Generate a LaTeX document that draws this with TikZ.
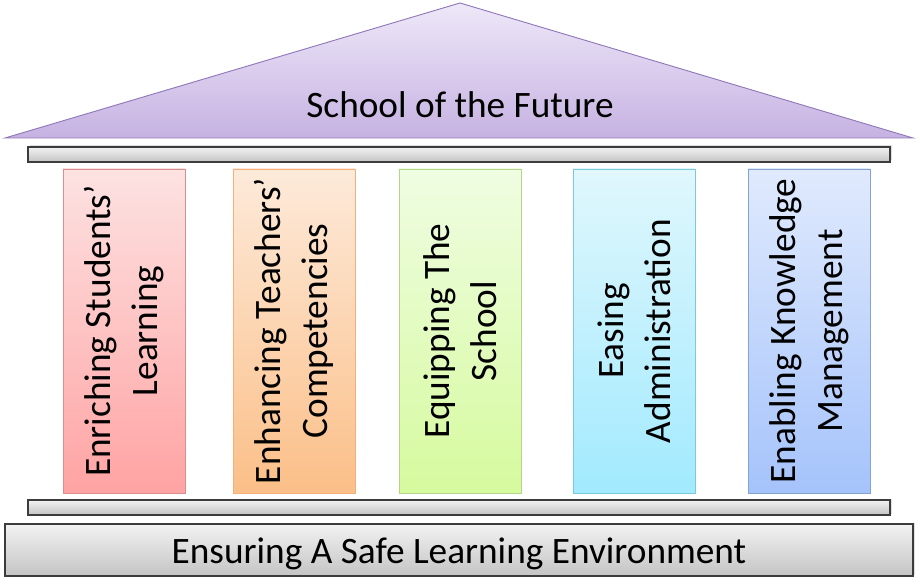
\documentclass[tikz,border=0pt]{standalone}
\usepackage{fontspec}
\setmainfont{Carlito}
\usepackage{tikz}
\usetikzlibrary{positioning,shadows}
\usepackage{xcolor}
\definecolor{roofline}{HTML}{8E76B8}
\definecolor{rooftop}{HTML}{EEE8F8}
\definecolor{roofbot}{HTML}{C6B2E2}
\definecolor{beamline}{HTML}{3C3C3C}
\definecolor{beamtop}{HTML}{F2F2F2}
\definecolor{beambot}{HTML}{C4C4C4}
\definecolor{redtop}{HTML}{FDE2E2}
\definecolor{redbot}{HTML}{FFA3A3}
\definecolor{redline}{HTML}{D88E8C}
\definecolor{orangetop}{HTML}{FDEADA}
\definecolor{orangebot}{HTML}{FBBF88}
\definecolor{orangeline}{HTML}{F3B07A}
\definecolor{greentop}{HTML}{EFFDE2}
\definecolor{greenbot}{HTML}{D6FA9E}
\definecolor{greenline}{HTML}{B5D68A}
\definecolor{cyantop}{HTML}{E0F7FD}
\definecolor{cyanbot}{HTML}{A2EAFE}
\definecolor{cyanline}{HTML}{7EC8DC}
\definecolor{bluetop}{HTML}{E0EAFD}
\definecolor{bluebot}{HTML}{A5C3FB}
\definecolor{blueline}{HTML}{85A3D1}
\tikzset{
  roof/.style={draw=roofline, line width=0.9pt, top color=rooftop, bottom color=roofbot},
  beam/.style={draw=beamline, line width=1.1pt, top color=beamtop, bottom color=beambot, inner sep=0pt,
    drop shadow={opacity=0.25, shadow xshift=1.5pt, shadow yshift=1.5pt}},
  pillar/.style={line width=0.9pt, minimum width=122pt, minimum height=324pt, inner sep=0pt},
  pillartext/.style={rotate=90, align=center, font=\fontsize{37.3}{47}\selectfont},
  bigtext/.style={font=\fontsize{37.3}{45}\selectfont}
}
\begin{document}
\begin{tikzpicture}[x=1pt, y=-1pt]
\useasboundingbox (0,0) rectangle (920,585);
% roof
\coordinate (apex) at (460,3);
\coordinate (eaveL) at (5,138);
\coordinate (eaveR) at (913,138);
\path[roof] (apex) -- (eaveR) -- (eaveL) -- cycle;
\node[bigtext] (title) at (460,105) {School of the Future};
% beams
\node[beam, minimum width=862pt, minimum height=15pt] (topbeam) at (459,154.5) {};
\node[beam, minimum width=862pt, minimum height=15pt] (lowbeam) at (459,507.5) {};
% pillars
\node[pillar, draw=redline, top color=redtop, bottom color=redbot] (p1) at (124,331) {};
\node[pillar, draw=orangeline, top color=orangetop, bottom color=orangebot] (p2) at (294,331) {};
\node[pillar, draw=greenline, top color=greentop, bottom color=greenbot] (p3) at (460,331) {};
\node[pillar, draw=cyanline, top color=cyantop, bottom color=cyanbot] (p4) at (634,331) {};
\node[pillar, draw=blueline, top color=bluetop, bottom color=bluebot] (p5) at (809,331) {};
\node[pillartext] (t1) at (p1) {Enriching Students’\\Learning};
\node[pillartext] (t2) at (p2) {Enhancing Teachers’\\Competencies};
\node[pillartext] (t3) at (p3) {Equipping The\\School};
\node[pillartext] (t4) at (p4) {Easing\\Administration};
\node[pillartext] (t5) at (p5) {Enabling Knowledge\\Management};
% base
\node[beam, minimum width=908pt, minimum height=52pt, bigtext, text height=33pt, text depth=7pt] (base) at (459,550) {Ensuring A Safe Learning Environment};
\end{tikzpicture}
\end{document}
